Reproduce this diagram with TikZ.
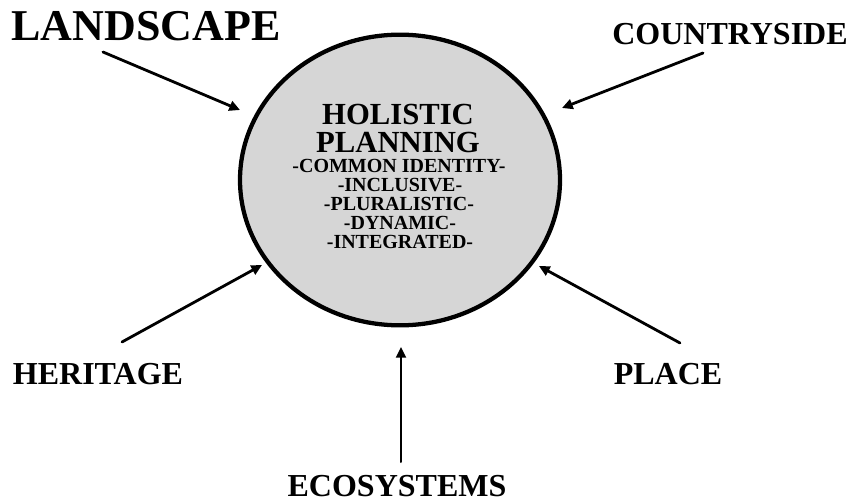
\documentclass[tikz,border=0pt]{standalone}
\usepackage{fontspec}
\setmainfont{Liberation Serif}
\usetikzlibrary{arrows.meta,shapes.geometric}

\begin{document}
\begin{tikzpicture}[x=0.75pt, y=-0.75pt, >={Triangle[length=8pt,width=7.5pt]},
  topic/.style={font=\fontsize{24}{26}\selectfont\bfseries, inner sep=0pt},
  title/.style={font=\fontsize{23}{25}\selectfont\bfseries, inner sep=0pt},
  trait/.style={font=\fontsize{15}{17}\selectfont\bfseries, inner sep=0pt},
  link/.style={->, line width=2.1pt, line cap=round}]
  \useasboundingbox (0,0) rectangle (856,503);

  % Central ellipse
  \node[draw, line width=3.2pt, fill=black!16, ellipse, inner sep=0pt,
        minimum width=240pt, minimum height=218pt] (hub) at (400,180) {};

  % Text inside the ellipse
  \node[title] (holistic) at (398,114) {HOLISTIC};
  \node[title] (planning) at (398,142) {PLANNING};
  \node[trait] (identity) at (399,166) {-COMMON IDENTITY-};
  \node[trait] (inclusive) at (400,185) {-INCLUSIVE-};
  \node[trait] (pluralistic) at (399,204) {-PLURALISTIC-};
  \node[trait] (dynamic) at (400,223) {-DYNAMIC-};
  \node[trait] (integrated) at (400,242) {-INTEGRATED-};

  % Surrounding topics
  \node[topic, font=\fontsize{33}{36}\selectfont\bfseries] (landscape) at (146,26) {LANDSCAPE};
  \node[topic] (countryside) at (730,34) {COUNTRYSIDE};
  \node[topic] (heritage) at (98,374) {HERITAGE};
  \node[topic] (place) at (668,374) {PLACE};
  \node[topic] (ecosystems) at (397,486) {ECOSYSTEMS};

  % Arrow ends
  \coordinate (landscape-tail) at (103,52);
  \coordinate (landscape-tip) at (240,110);
  \coordinate (countryside-tail) at (703,53);
  \coordinate (countryside-tip) at (562,108);
  \coordinate (heritage-tail) at (122,342);
  \coordinate (heritage-tip) at (262,265);
  \coordinate (place-tail) at (680,343);
  \coordinate (place-tip) at (539,266);
  \coordinate (ecosystems-tail) at (401,462);
  \coordinate (ecosystems-tip) at (401,347);

  % Arrows
  \foreach \t in {landscape,countryside,heritage,place}
    \draw[link] (\t-tail) -- (\t-tip);
  \draw[link, line width=1.5pt] (ecosystems-tail) -- (ecosystems-tip);
\end{tikzpicture}
\end{document}
